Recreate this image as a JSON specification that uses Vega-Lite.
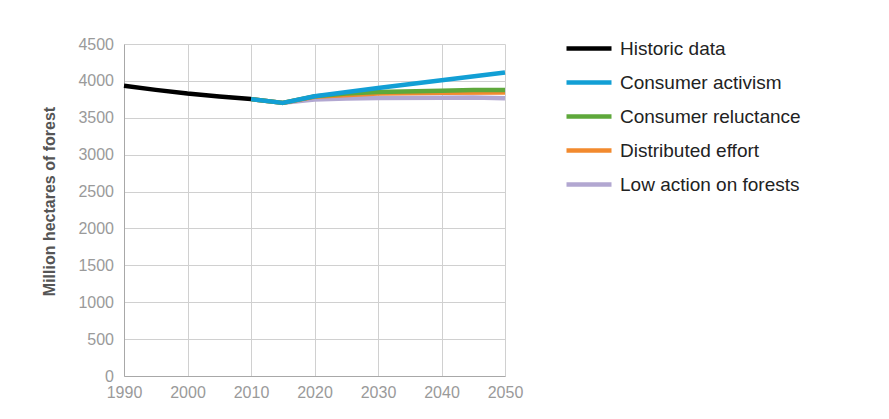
{
  "$schema": "https://vega.github.io/schema/vega-lite/v6.json",
  "autosize": "none",
  "width": 381,
  "height": 332,
  "padding": {"left": 124, "top": 44, "right": 384, "bottom": 43},
  "background": "white",
  "config": {
    "font": "Liberation Sans",
    "view": {"stroke": null},
    "axis": {"gridColor": "#d0d0d0", "gridWidth": 1, "domainColor": "#a8a8a8", "ticks": false, "labelColor": "#9a9a9a", "labelFontSize": 16, "labelFont": "Liberation Sans"}
  },
  "data": {
    "values": [
      {"year": 2010, "forest": 3753, "series": "Low action on forests"},
      {"year": 2015, "forest": 3702, "series": "Low action on forests"},
      {"year": 2020, "forest": 3748, "series": "Low action on forests"},
      {"year": 2025, "forest": 3762, "series": "Low action on forests"},
      {"year": 2030, "forest": 3768, "series": "Low action on forests"},
      {"year": 2040, "forest": 3772, "series": "Low action on forests"},
      {"year": 2045, "forest": 3776, "series": "Low action on forests"},
      {"year": 2050, "forest": 3764, "series": "Low action on forests"},
      {"year": 2010, "forest": 3753, "series": "Distributed effort"},
      {"year": 2015, "forest": 3702, "series": "Distributed effort"},
      {"year": 2020, "forest": 3785, "series": "Distributed effort"},
      {"year": 2030, "forest": 3828, "series": "Distributed effort"},
      {"year": 2040, "forest": 3838, "series": "Distributed effort"},
      {"year": 2050, "forest": 3843, "series": "Distributed effort"},
      {"year": 2010, "forest": 3753, "series": "Consumer reluctance"},
      {"year": 2015, "forest": 3702, "series": "Consumer reluctance"},
      {"year": 2020, "forest": 3790, "series": "Consumer reluctance"},
      {"year": 2025, "forest": 3828, "series": "Consumer reluctance"},
      {"year": 2030, "forest": 3850, "series": "Consumer reluctance"},
      {"year": 2040, "forest": 3866, "series": "Consumer reluctance"},
      {"year": 2045, "forest": 3876, "series": "Consumer reluctance"},
      {"year": 2050, "forest": 3876, "series": "Consumer reluctance"},
      {"year": 2010, "forest": 3753, "series": "Consumer activism"},
      {"year": 2015, "forest": 3702, "series": "Consumer activism"},
      {"year": 2020, "forest": 3792, "series": "Consumer activism"},
      {"year": 2030, "forest": 3905, "series": "Consumer activism"},
      {"year": 2040, "forest": 4010, "series": "Consumer activism"},
      {"year": 2050, "forest": 4115, "series": "Consumer activism"},
      {"year": 1990, "forest": 3934, "series": "Historic data"},
      {"year": 1995, "forest": 3878, "series": "Historic data"},
      {"year": 2000, "forest": 3828, "series": "Historic data"},
      {"year": 2005, "forest": 3788, "series": "Historic data"},
      {"year": 2010, "forest": 3753, "series": "Historic data"}
    ]
  },
  "mark": {"type": "line", "strokeWidth": 4.5, "strokeCap": "butt", "strokeJoin": "round"},
  "encoding": {
    "x": {
      "field": "year", "type": "quantitative",
      "scale": {"domain": [1990, 2050], "nice": false, "zero": false},
      "axis": {"values": [1990, 2000, 2010, 2020, 2030, 2040, 2050], "format": "d", "title": null, "labelPadding": 8, "labelFlush": false}
    },
    "y": {
      "field": "forest", "type": "quantitative",
      "scale": {"domain": [0, 4500], "nice": false},
      "axis": {
        "values": [0, 500, 1000, 1500, 2000, 2500, 3000, 3500, 4000, 4500],
        "format": "d",
        "labelPadding": 10.5,
        "title": "Million hectares of forest",
        "titleFontSize": 16, "titleFontWeight": "bold", "titleColor": "#555555",
        "titleX": -75, "titleY": 157, "titleAngle": -90, "titleAlign": "center", "titleBaseline": "middle"
      }
    },
    "color": {
      "field": "series", "type": "nominal",
      "scale": {
        "domain": ["Historic data", "Consumer activism", "Consumer reluctance", "Distributed effort", "Low action on forests"],
        "range": ["#000000", "#129fd5", "#5ea83b", "#f28a2e", "#b2a7d1"]
      },
      "legend": {
        "title": null,
        "orient": "none",
        "legendX": 453.5,
        "legendY": -7,
        "padding": 0,
        "symbolType": "M-2.5,0H2.5",
        "symbolSize": 324,
        "symbolStrokeWidth": 4.5,
        "labelFontSize": 19,
        "labelColor": "#222222",
        "labelOffset": 19.5,
        "labelBaseline": "middle",
        "labelLimit": 300,
        "rowPadding": 12
      }
    }
  }
}
